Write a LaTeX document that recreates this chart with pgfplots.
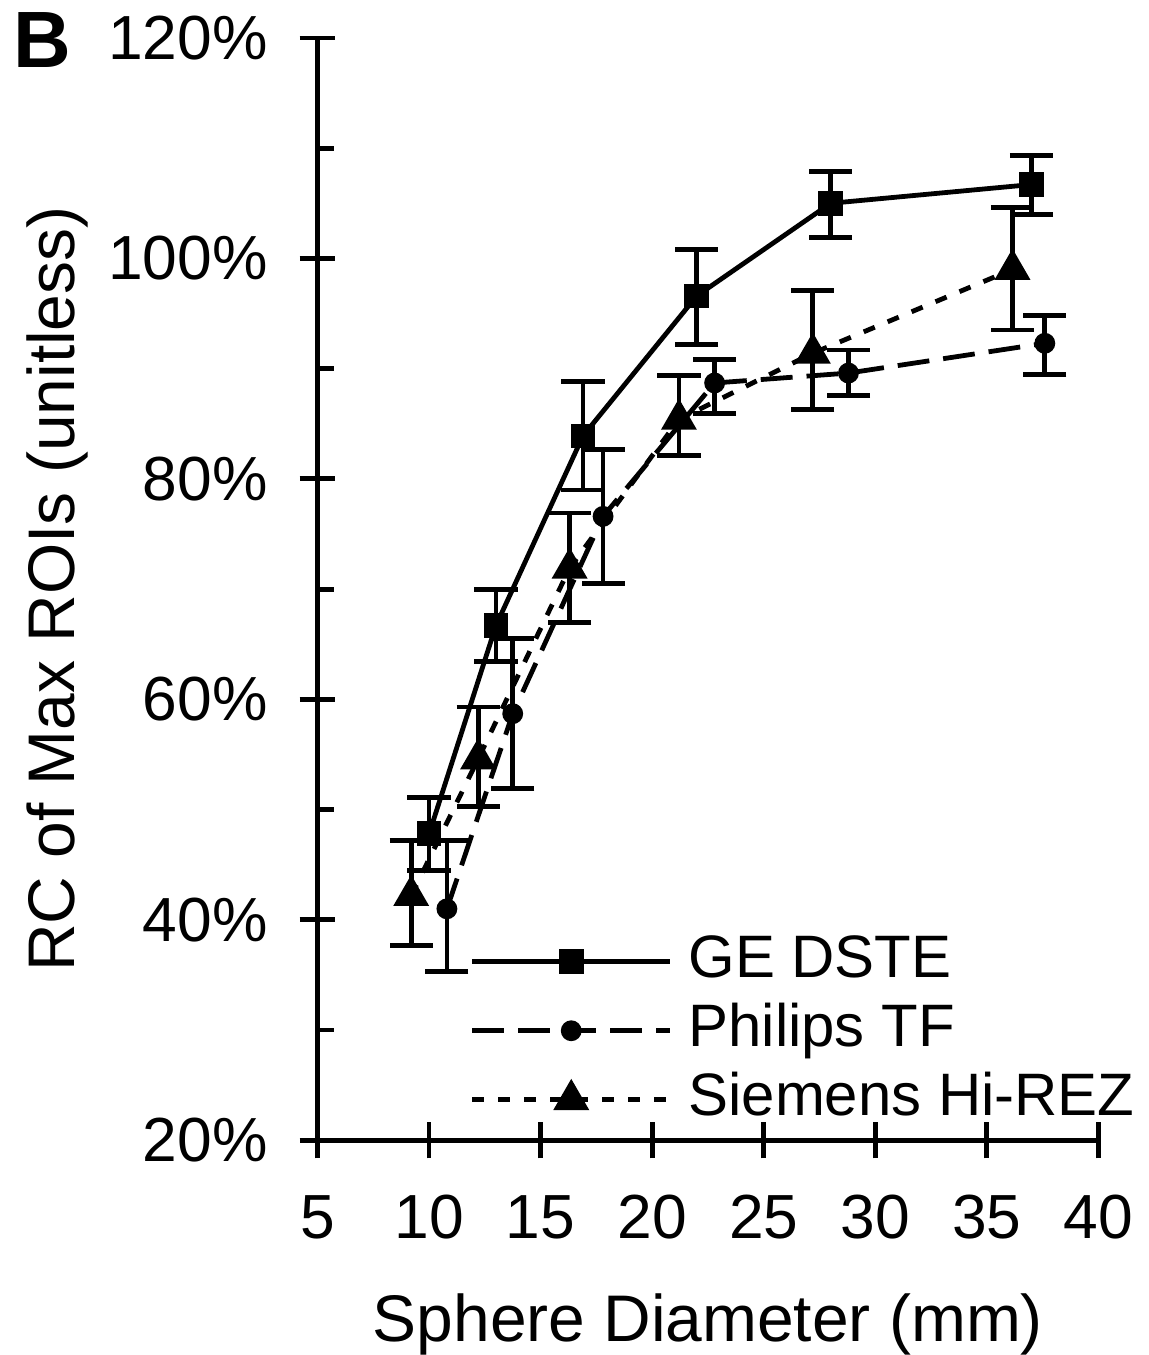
\documentclass[border=0pt]{standalone}
\usepackage{pgfplots}
\pgfplotsset{compat=1.18}
\usepackage{pgfplotstable}
\usepackage{fontspec}
\setmainfont{Liberation Sans}

% columns: diameter, RC (%), error plus, error minus
\pgfplotstableread{
x y ep em
10.0 47.8 3.3 3.3
13.0 66.7 3.3 3.3
16.9 83.9 4.9 4.9
22.0 96.6 4.2 4.4
28.0 105.0 2.9 3.1
37.0 106.7 2.6 2.7
}\geData
\pgfplotstableread{
x y ep em
10.8 41.0 6.2 5.7
13.75 58.7 6.8 6.8
17.8 76.6 6.1 6.1
22.8 88.7 2.1 2.8
28.8 89.6 2.1 2.0
37.6 92.3 2.5 2.8
}\philipsData
\pgfplotstableread{
x y ep em
9.2 42.2 5.0 4.5
12.2 54.6 4.7 4.3
16.3 71.9 5.0 4.9
21.2 85.4 4.0 3.3
27.2 91.4 5.7 5.1
36.15 99.0 5.6 5.5
}\siemensData

\begin{document}
\begin{tikzpicture}
\begin{axis}[
    scale only axis, width=195.5pt, height=276pt,
    xmin=5, xmax=40, ymin=20, ymax=120,
    axis lines=left, axis line style={-, line width=1.2pt},
    xtick={5,10,...,40}, ytick={20,40,...,120}, minor y tick num=1,
    tick align=center, major tick length=9pt, minor tick length=4.25pt,
    tick style={black, line width=1.2pt},
    minor y tick style={xshift=2.1pt},
    yticklabel={\pgfmathprintnumber{\tick}\%},
    /pgf/number format/assume math mode=true,
    tick label style={font=\fontsize{15.6}{18}\selectfont},
    yticklabel style={xshift=-4.5pt},
    xticklabel style={yshift=-5.75pt},
    label style={font=\fontsize{16.5}{20}\selectfont, inner sep=0pt},
    xlabel={Sphere Diameter (mm)},
    ylabel={RC of Max ROIs (unitless)},
    xlabel style={yshift=-10pt},
    ylabel style={yshift=1.5pt},
    clip=false,
    legend cell align=left,
    legend image code/.code={\draw[mark repeat=2,mark phase=2,#1] plot coordinates {(0pt,0pt) (24.75pt,0pt) (49.5pt,0pt)};},
    legend style={at={(axis cs:11.8,38.8)}, anchor=north west, draw=none, fill=none,
        inner sep=0pt, column sep=4pt, row sep=3.25pt,
        font=\fontsize{15}{18}\selectfont,
        nodes={inner sep=0pt, text height=11pt, text depth=3pt}},
    every axis plot/.append style={black, line width=1.2pt},
    error bars/y dir=both, error bars/y explicit,
    error bars/error bar style={solid, line width=1.2pt},
    error bars/error mark options={solid, rotate=90, mark size=5.4pt, line width=1.2pt},
]
\addplot[solid, mark=square*, mark size=2.5pt, mark options={solid}]
    table[x=x, y=y, y error plus=ep, y error minus=em] {\geData};
\addlegendentry{GE DSTE}
\addplot[dash pattern=on 8pt off 3.5pt, mark=*, mark size=2pt, mark options={solid}]
    table[x=x, y=y, y error plus=ep, y error minus=em] {\philipsData};
\addlegendentry{Philips TF}
\addplot[dash pattern=on 3pt off 3.5pt, mark=triangle*, mark size=4pt, mark options={solid}]
    table[x=x, y=y, y error plus=ep, y error minus=em] {\siemensData};
\addlegendentry{Siemens Hi-REZ}
\node[anchor=north west, inner sep=0pt, font=\fontsize{20}{24}\bfseries]
    at (rel axis cs:-0.3905,1.0235) {B};
\path (rel axis cs:-0.4066,1.0344) rectangle (rel axis cs:1.0639,-0.1929);
\end{axis}
\end{tikzpicture}
\end{document}
